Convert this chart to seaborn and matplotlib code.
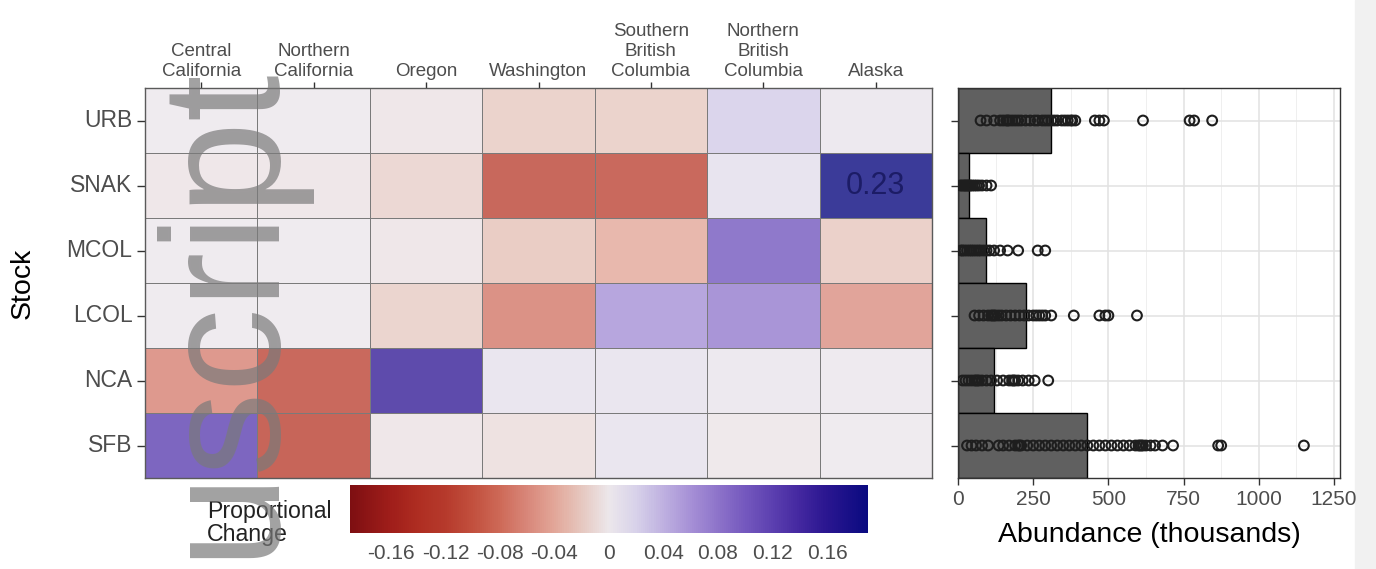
import numpy as np
import pandas as pd
import matplotlib
matplotlib.use("Agg")
import matplotlib.pyplot as plt
import seaborn as sns
from matplotlib.colors import LinearSegmentedColormap, Normalize, to_rgb
from matplotlib.cm import ScalarMappable
from matplotlib.patches import Rectangle

# ---------------- data ----------------
regions = ["Central\nCalifornia", "Northern\nCalifornia", "Oregon", "Washington",
           "Southern\nBritish\nColumbia", "Northern\nBritish\nColumbia", "Alaska"]
stocks = ["URB", "SNAK", "MCOL", "LCOL", "NCA", "SFB"]

# proportional change in each region, one list per stock (region order as above)
change_urb = [0.000, 0.000, -0.004, -0.020, -0.020, 0.025, 0.004]
change_snak = [-0.004, -0.004, -0.015, -0.112, -0.110, 0.010, 0.23]
change_mcol = [0.000, 0.000, -0.003, -0.025, -0.040, 0.100, -0.022]
change_lcol = [0.000, 0.000, -0.018, -0.070, 0.060, 0.075, -0.055]
change_nca = [-0.065, -0.110, 0.150, 0.006, 0.006, 0.003, 0.002]
change_sfb = [0.120, -0.115, -0.003, -0.008, 0.006, -0.002, 0.001]

change_limits = (-0.19, 0.19)
cbar_ticks = [-0.16, -0.12, -0.08, -0.04, 0.0, 0.04, 0.08, 0.12, 0.16]
cbar_labels = ["-0.16", "-0.12", "-0.08", "-0.04", "0", "0.04", "0.08", "0.12", "0.16"]

# mean abundance (thousands) and yearly abundances for each stock
mean_abundance = [310, 35, 92, 225, 120, 430]
abund_urb = [75, 95, 120, 140, 150, 160, 165, 170, 180, 190, 200, 210, 225, 240, 255,
             265, 280, 290, 300, 310, 320, 330, 345, 355, 365, 375, 380, 390, 455,
             470, 485, 615, 770, 785, 845]
abund_snak = [8, 12, 18, 22, 26, 30, 34, 38, 42, 48, 55, 62, 70, 80, 95, 110]
abund_mcol = [10, 15, 22, 30, 38, 45, 52, 60, 68, 75, 85, 95, 105, 120, 140, 165,
              200, 265, 290]
abund_lcol = [55, 70, 85, 100, 110, 115, 120, 125, 135, 145, 160, 175, 190, 205,
              220, 235, 250, 260, 270, 280, 290, 310, 385, 470, 490, 500, 595]
abund_nca = [15, 25, 35, 45, 55, 60, 65, 70, 80, 95, 110, 130, 150, 170, 180, 185,
             190, 200, 215, 235, 255, 300]
abund_sfb = [30, 45, 60, 80, 100, 135, 150, 170, 190, 200, 205, 210, 230, 250, 270,
             290, 310, 330, 350, 370, 390, 410, 430, 450, 470, 490, 510, 530, 550,
             570, 590, 600, 605, 610, 615, 625, 640, 655, 680, 715, 865, 875, 1150]
abundance_ticks = [0, 250, 500, 750, 1000, 1250]

# ---------------- diverging colour scale ----------------
scale_values = [-0.19, -0.16, -0.14, -0.12, -0.10, -0.08, -0.06, -0.04, -0.02, 0.0,
                0.02, 0.04, 0.06, 0.08, 0.10, 0.12, 0.14, 0.16, 0.19]
scale_colors = ["#7E0F12", "#A01E1A", "#AF2E22", "#B63A2C", "#C2503E", "#CE6A58",
                "#D8877A", "#E2A698", "#E6C8C0", "#ECE7EB", "#D8D2EA", "#BEB0E0",
                "#A690D6", "#8E74CA", "#7458BE", "#5C40B0", "#4428A0", "#2A1690",
                "#0A0A80"]
vmin, vmax = change_limits
pos = [(v - vmin) / (vmax - vmin) for v in scale_values]
rgb = np.array([to_rgb(c) for c in scale_colors])
bar_cmap = LinearSegmentedColormap.from_list("change", list(zip(pos, rgb)))
# tiles are drawn at 80% opacity on a white page
tile_cmap = LinearSegmentedColormap.from_list("change_tiles",
                                              list(zip(pos, 0.8 * rgb + 0.2)))

# ---------------- figure ----------------
sns.set_style("white")
plt.rcParams["font.family"] = ["Liberation Sans", "DejaVu Sans"]

W, H = 1376, 569
fig = plt.figure(figsize=(W / 100, H / 100), dpi=100)

tick_col = "#4D4D4D"
line_col = "#333333"

# heatmap of proportional change
ax = fig.add_axes([145 / W, (H - 478) / H, 787 / W, 390 / H])
change = pd.DataFrame([change_urb, change_snak, change_mcol, change_lcol,
                       change_nca, change_sfb], index=stocks, columns=regions)
labels = np.where((change.values > vmax) | (change.values < vmin),
                  np.vectorize(lambda v: f"{v:.2f}")(change.values), "")
sns.heatmap(change, ax=ax, cmap=tile_cmap, vmin=vmin, vmax=vmax, cbar=False,
            linewidths=0.6, linecolor="#7A7A7A", annot=labels, fmt="",
            annot_kws={"fontsize": 22, "color": "#1C1C66"})
ax.xaxis.tick_top()
ax.set_xticklabels(regions, rotation=0, ha="center")
for lbl in ax.get_xticklabels():
    lbl.set_multialignment("center")
ax.set_yticklabels(stocks, rotation=0)
ax.set_xlabel("")
ax.set_ylabel("Stock", fontsize=20.5, color="black")
ax.yaxis.set_label_coords(-0.155, 0.5)
ax.yaxis.label.set_va("center")
ax.tick_params(axis="x", top=True, bottom=False, length=4, width=1, color=line_col,
               pad=2, labelsize=13.5, labelcolor=tick_col)
ax.tick_params(axis="y", left=True, length=6, width=1, color=line_col, pad=3,
               labelsize=16.5, labelcolor=tick_col)
for sp in ax.spines.values():
    sp.set_visible(True)
    sp.set_color("#5A5A5A")
    sp.set_linewidth(1)

# colour bar legend
cax = fig.add_axes([350 / W, (H - 533) / H, 518 / W, 48 / H])
sm = ScalarMappable(norm=Normalize(vmin, vmax), cmap=bar_cmap)
cbar = fig.colorbar(sm, cax=cax, orientation="horizontal")
cbar.outline.set_visible(False)
cbar.set_ticks(cbar_ticks)
cbar.set_ticklabels(cbar_labels)
cax.tick_params(axis="x", direction="in", top=True, bottom=True, length=7, width=1,
                color="white", labelsize=15, labelcolor=tick_col, pad=8)
fig.text(207 / W, (H - 523) / H, "Proportional\nChange", fontsize=16.7, ha="left",
         va="center", linespacing=1.0, color="#222222")

# abundance bars with yearly points
bx = fig.add_axes([958 / W, (H - 478) / H, 382 / W, 390 / H])
bars = pd.DataFrame({"stock": stocks, "abundance": mean_abundance})
sns.barplot(data=bars, x="abundance", y="stock", order=stocks, orient="h",
            color="#606060", saturation=1, edgecolor="black", linewidth=1,
            width=1.0, ax=bx)
points = pd.concat([
    pd.DataFrame({"stock": s, "abundance": v})
    for s, v in zip(stocks, [abund_urb, abund_snak, abund_mcol, abund_lcol,
                             abund_nca, abund_sfb])
])
sns.stripplot(data=points, x="abundance", y="stock", order=stocks, orient="h",
              jitter=False, size=7, color="black", linewidth=1.5, ax=bx, zorder=3)
for coll in bx.collections:
    coll.set_facecolor("none")
    coll.set_edgecolor("#1E1E1E")
bx.set_xlim(0, 1270)
bx.set_ylim(5.5, -0.5)
bx.set_xticks(abundance_ticks)
bx.set_xticklabels([str(t) for t in abundance_ticks])
bx.set_xticks([125, 375, 625, 875, 1125], minor=True)
bx.set_yticks(range(len(stocks)))
bx.set_yticklabels([])
bx.set_ylabel("")
bx.set_axisbelow(True)
bx.grid(True, which="major", color="#E2E2E2", linewidth=1.1)
bx.grid(True, which="minor", axis="x", color="#EFEFEF", linewidth=0.7)
bx.tick_params(axis="x", which="major", bottom=True, length=5, width=1,
               color=line_col, labelsize=15, labelcolor=tick_col, pad=3.5)
bx.tick_params(axis="x", which="minor", length=0)
bx.tick_params(axis="y", left=True, length=5, width=1, color=line_col)
bx.set_xlabel("Abundance (thousands)", fontsize=20.5, color="black")
bx.xaxis.set_label_coords(0.5, -0.146)
bx.xaxis.label.set_va("center")
for sp in bx.spines.values():
    sp.set_visible(True)
    sp.set_color(line_col)
    sp.set_linewidth(1)

# page margin strip and overlaid watermark text
fig.patches.append(Rectangle((1355 / W, 0), 21 / W, 1, transform=fig.transFigure,
                             color="#F1F1F1", zorder=-1))
fig.text(269 / W, (H - 558) / H, "uscript", rotation=90, rotation_mode="anchor",
         ha="left", va="baseline", fontsize=121, color="#7A7A7A", alpha=0.7,
         zorder=10)

fig.savefig("out.png", dpi=100)
